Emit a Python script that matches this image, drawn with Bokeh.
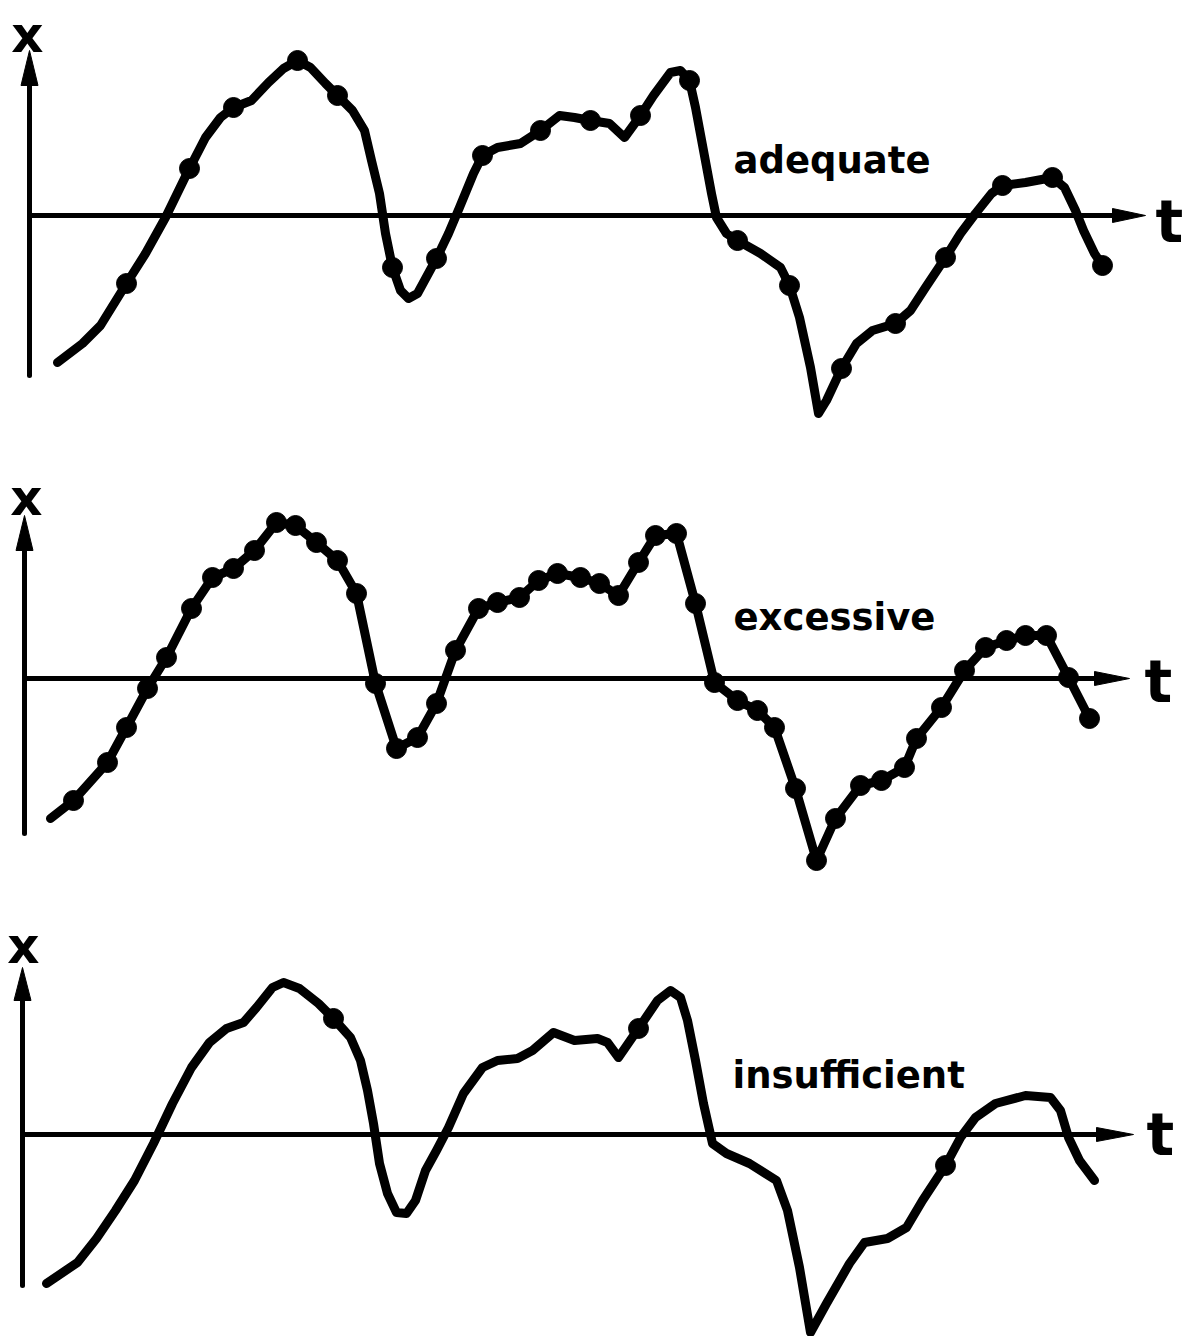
from bokeh.plotting import figure
from bokeh.layouts import column
from bokeh.models import Range1d
from bokeh.core.properties import value
from bokeh.embed import file_html
from bokeh.resources import INLINE

# ---------------- data (t, x) of the signal in each panel ----------------
# Panel 1: "adequate" sampling
curve1_t = [28, 53, 71, 97, 116, 136, 155, 160, 176, 191, 204, 222, 239, 254, 268, 281, 296, 308,
            323, 335, 342, 350, 356, 363, 371, 379, 388, 407, 419, 430, 444, 453, 468, 491, 511,
            530, 545, 561, 580, 595, 611, 624, 641, 651, 660, 666, 674, 682, 687, 697, 708, 731,
            751, 760, 770, 781, 789, 797, 812, 827, 843, 866, 881, 896, 916, 931, 946, 962, 973,
            996, 1023, 1035, 1046, 1054, 1065, 1073]
curve1_x = [-147, -128, -110, -68, -38, -2, 37, 47, 78, 98, 108, 115, 133, 147, 155, 148, 132, 120,
            105, 85, 55, 22, -18, -52, -75, -83, -78, -43, -18, 8, 42, 60, 68, 72, 85,
            100, 98, 95, 92, 78, 100, 120, 143, 145, 135, 108, 65, 22, -2, -18, -25, -38,
            -52, -70, -102, -152, -198, -185, -153, -128, -115, -108, -95, -72, -42, -18, 2, 22, 30,
            33, 38, 28, 5, -15, -38, -50]
samples1_t = [97, 160, 204, 268, 308, 363, 407, 453, 511, 561, 611, 660, 708, 760, 812, 866, 916,
              973, 1023, 1073]
samples1_x = [-68, 47, 108, 155, 120, -52, -43, 60, 85, 95, 100, 135, -25, -70, -153, -108, -42,
              30, 38, -50]

# Panel 2: "excessive" sampling
curve2_t = [26, 49, 83, 102, 123, 142, 167, 188, 209, 230, 252, 271, 292, 313, 332, 351, 372, 393,
            412, 431, 454, 473, 495, 514, 533, 556, 575, 594, 614, 631, 652, 671, 690, 713, 733,
            750, 771, 792, 811, 836, 857, 880, 892, 917, 940, 961, 982, 1001, 1022, 1044, 1065]
curve2_x = [-140, -122, -84, -49, -10, 21, 70, 101, 110, 128, 156, 153, 136, 118, 85, -5, -70, -59,
            -25, 28, 70, 76, 81, 98, 105, 101, 95, 83, 116, 143, 145, 75, -4, -22, -32,
            -49, -110, -182, -140, -107, -102, -89, -60, -29, 8, 31, 38, 43, 43, 1, -40]
samples2_t = curve2_t[1:]
samples2_x = curve2_x[1:]

# Panel 3: "insufficient" sampling
curve3_t = [24, 55, 74, 93, 112, 131, 150, 169, 187, 204, 221, 234, 250, 261, 277, 296, 311, 328,
            338, 345, 351, 357, 365, 374, 384, 393, 403, 414, 426, 441, 460, 475, 495, 510, 531,
            552, 575, 585, 596, 616, 635, 648, 658, 665, 673, 681, 690, 704, 727, 754, 765, 777,
            788, 804, 827, 842, 865, 884, 900, 923, 938, 953, 973, 1003, 1028, 1038, 1046, 1057, 1072]
curve3_x = [-149, -128, -104, -76, -46, -9, 31, 67, 92, 106, 112, 127, 147, 152, 146, 131, 116, 97,
            74, 44, 11, -29, -59, -78, -79, -66, -36, -16, 7, 41, 67, 74, 76, 84, 102,
            94, 96, 92, 77, 106, 134, 144, 137, 114, 74, 31, -9, -19, -29, -46, -76, -133,
            -198, -169, -129, -108, -104, -93, -66, -31, -3, 17, 31, 39, 37, 24, -3, -26, -46]
samples3_t = [311, 616, 923]
samples3_x = [116, 106, -31]

labels = ["adequate", "excessive", "insufficient"]

# ---------------- layout / style (not data) ----------------
W = 1182
heights = [445, 445, 446]
panels = [
    # x_range, y_range, vertical axis (bottom, arrow base, tip), horizontal (arrow base, tip),
    # "x" label pos, "t" label pos, caption pos
    dict(xr=(-29, 1153), yr=(-230, 215), v=(-160, 130, 165), h=(1083, 1116),
         xl=(-2, 181), tl=(1126, -6), cap=(704, 55)),
    dict(xr=(-24, 1158), yr=(-212, 233), v=(-155, 128, 163), h=(1070, 1105),
         xl=(2, 181), tl=(1120, -3), cap=(709, 61)),
    dict(xr=(-22, 1160), yr=(-202, 244), v=(-151, 134, 167), h=(1074, 1111),
         xl=(1, 189), tl=(1124, 0), cap=(710, 59)),
]
curves = [(curve1_t, curve1_x, samples1_t, samples1_x),
          (curve2_t, curve2_x, samples2_t, samples2_x),
          (curve3_t, curve3_x, samples3_t, samples3_x)]

FONT = value("DejaVu Sans")
figs = []
for cfg, h, (ct, cx, st, sx), lab in zip(panels, heights, curves, labels):
    p = figure(width=W, height=h, x_range=Range1d(*cfg["xr"]), y_range=Range1d(*cfg["yr"]),
               output_backend="svg", toolbar_location=None, min_border=0)
    p.axis.visible = False
    p.grid.visible = False
    p.outline_line_color = None
    p.background_fill_color = "white"
    p.border_fill_color = "white"

    vb, vbase, vtip = cfg["v"]
    hbase, htip = cfg["h"]
    # vertical axis + arrow head
    p.line([0, 0], [vb, vbase + 2], line_width=5, line_color="black", line_cap="round")
    p.patch([-8.5, 8.5, 0], [vbase, vbase, vtip], fill_color="black", line_color="black",
            line_width=1)
    # horizontal axis + arrow head
    p.line([0, hbase + 2], [0, 0], line_width=5, line_color="black")
    p.patch([hbase, hbase, htip], [-7, 7, 0], fill_color="black", line_color="black",
            line_width=1)

    # signal
    p.line(ct, cx, line_width=9, line_color="black", line_join="round", line_cap="round")
    p.scatter(st, sx, size=20, marker="circle", fill_color="black", line_color="black")

    # texts
    p.text([cfg["xl"][0]], [cfg["xl"][1]], text=["x"], text_font=FONT, text_font_style="bold",
           text_font_size="50px", text_align="center", text_baseline="alphabetic",
           text_color="black")
    p.text([cfg["tl"][0]], [cfg["tl"][1]], text=["t"], text_font=FONT, text_font_style="bold",
           text_font_size="58px", text_align="left", text_baseline="alphabetic",
           text_color="black")
    p.text([cfg["cap"][0]], [cfg["cap"][1]], text=[lab], text_font=FONT,
           text_font_style="bold", text_font_size="37px", text_align="left",
           text_baseline="alphabetic", text_color="black")
    figs.append(p)

layout = column(*figs, spacing=0)
open("out.html", "w").write(file_html(layout, INLINE))
